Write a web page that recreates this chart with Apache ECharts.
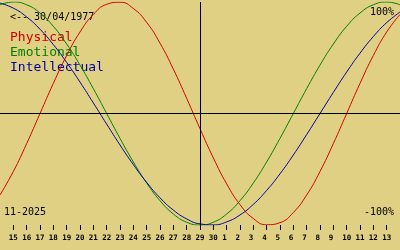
<!DOCTYPE html>
<html><head><meta charset="utf-8">
<script src="https://cdn.jsdelivr.net/npm/echarts@6/dist/echarts.min.js"></script>
<style>html,body{margin:0;padding:0;background:#e0d084;}#c{width:400px;height:250px;}</style>
</head><body><div id="c"></div>
<script>
// day-of-month for each sampled day (Nov 14 .. Dec 14)
var days = ['14','15','16','17','18','19','20','21','22','23','24','25','26','27','28','29','30','1','2','3','4','5','6','7','8','9','10','11','12','13','14'];
var todayLabel = '29';
var monthLabel = '11-2025';
var birthLabel = '<-- 30/04/1977';
var seriesNames = ['Physical','Emotional','Intellectual'];
var physical = [-0.731,-0.520,-0.270,0,0.270,0.520,0.731,0.888,0.979,0.998,0.942,0.817,0.631,0.398,0.136,-0.136,-0.398,-0.631,-0.817,-0.942,-0.998,-0.979,-0.888,-0.731,-0.520,-0.270,0,0.270,0.520,0.731,0.888];
var emotional = [0.975,1.000,0.975,0.901,0.782,0.623,0.434,0.223,0,-0.223,-0.434,-0.623,-0.782,-0.901,-0.975,-1.000,-0.975,-0.901,-0.782,-0.623,-0.434,-0.223,0,0.223,0.434,0.623,0.782,0.901,0.975,1.000,0.975];
var intellectual = [0.990,0.945,0.866,0.756,0.618,0.458,0.282,0.095,-0.095,-0.282,-0.458,-0.618,-0.756,-0.866,-0.945,-0.990,-0.999,-0.972,-0.910,-0.815,-0.690,-0.541,-0.372,-0.189,0,0.189,0.372,0.541,0.690,0.815,0.910];
var topLabel = '100%', bottomLabel = '-100%';

var colors = ['#d00000','#008000','#0000a0'];
var chart = echarts.init(document.getElementById('c'), null, {renderer:'canvas'});
var last = days.length - 1;
var mono = "'DejaVu Sans Mono', monospace";
var option = {
  backgroundColor: '#e0d084',
  animation: false,
  grid: {left: 0, right: 0, top: 2, bottom: 25},
  xAxis: {
    type: 'category', data: days, boundaryGap: false,
    axisLine: {show: false, onZero: false},
    axisTick: {show: true, length: 5, lineStyle: {color: '#000', width: 1},
      interval: function (i) { return i > 0 && i < last; }},
    axisLabel: {show: true, margin: 9, color: '#000', fontFamily: mono, fontSize: 7.5, fontWeight: 'bold',
      interval: function (i) { return i > 0 && i < last; },
      formatter: function (v) { return v.length < 2 ? v + ' ' : v; }},
    splitLine: {show: false}
  },
  yAxis: {type: 'value', min: -1, max: 1, show: false},
  series: [
    {name: seriesNames[0], type: 'line', data: physical, smooth: true, symbol: 'none',
      lineStyle: {color: colors[0], width: 1},
      markLine: {silent: true, symbol: 'none', label: {show: false},
        lineStyle: {color: '#000', width: 1, type: 'solid'},
        data: [{yAxis: 0}, {xAxis: days.indexOf(todayLabel)}]}},
    {name: seriesNames[1], type: 'line', data: emotional, smooth: true, symbol: 'none',
      lineStyle: {color: colors[1], width: 1}},
    {name: seriesNames[2], type: 'line', data: intellectual, smooth: true, symbol: 'none',
      lineStyle: {color: colors[2], width: 1}}
  ],
  graphic: [
    {type: 'text', left: 10, top: 12, style: {text: birthLabel, fill: '#000', font: '10px ' + mono}},
    {type: 'text', left: 10, top: 31, style: {text: seriesNames[0], fill: colors[0], font: '13px ' + mono}},
    {type: 'text', left: 10, top: 46, style: {text: seriesNames[1], fill: colors[1], font: '13px ' + mono}},
    {type: 'text', left: 10, top: 61, style: {text: seriesNames[2], fill: colors[2], font: '13px ' + mono}},
    {type: 'text', right: 6, top: 7, style: {text: topLabel, fill: '#000', font: '10px ' + mono}},
    {type: 'text', right: 6, top: 207, style: {text: bottomLabel, fill: '#000', font: '10px ' + mono}},
    {type: 'text', left: 4, top: 207, style: {text: monthLabel, fill: '#000', font: '10px ' + mono}}
  ]
};
chart.setOption(option);
</script>
</body></html>
